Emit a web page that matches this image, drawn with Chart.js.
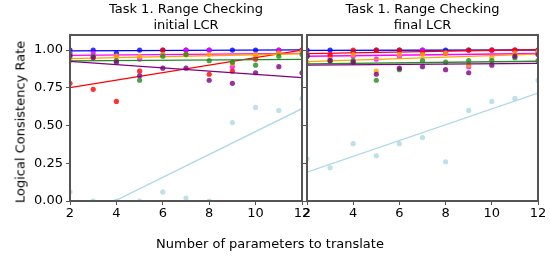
<!DOCTYPE html>
<html>
<head>
<meta charset="utf-8">
<script src="https://cdn.jsdelivr.net/npm/chart.js@4.4.0/dist/chart.umd.min.js"></script>
<style>
  body { margin: 0; background: #fff; font-family: 'DejaVu Sans', sans-serif; }
  #wrap { position: relative; width: 550px; height: 259px; overflow: hidden; }
  .cv { position: absolute; top: 0; }
  #xlabel { position: absolute; left: 0; width: 540px; top: 236px; text-align: center; font-size: 13px; color: #000; }
  #ylabel { position: absolute; left: 20px; top: 122px; font-size: 13px; color: #000; white-space: nowrap;
            transform: translate(-50%, -50%) rotate(-90deg); }
</style>
</head>
<body>
<div id="wrap">
  <div class="cv" style="left:0;width:320px;height:259px"><canvas id="initialChart"></canvas></div>
  <div class="cv" style="left:300px;width:250px;height:259px"><canvas id="finalChart"></canvas></div>
  <div id="xlabel">Number of parameters to translate</div>
  <div id="ylabel">Logical Consistency Rate</div>
</div>
<script>
// x values: number of parameters
const paramCounts = [2, 3, 4, 5, 6, 7, 8, 9, 10, 11, 12];
const xTicks = [2, 4, 6, 8, 10, 12];
const yTicks = [0, 0.25, 0.5, 0.75, 1.0];

// initial LCR (left panel)
const initialLightBlue = [0.06, 0.00, 0.00, 0.00, 0.06, 0.02, 0.00, 0.52, 0.62, 0.60, 0.68];
const initialPurple    = [0.96, 0.95, 0.92, 0.83, 0.88, 0.88, 0.80, 0.78, 0.85, 0.89, 0.85];
const initialGreen     = [0.97, 0.96, 0.93, 0.80, 0.96, 0.97, 0.93, 0.92, 0.90, 0.96, 0.97];
const initialOrange    = [0.93, 0.95, 0.96, 0.96, 0.97, 0.97, 0.97, 0.91, 0.97, 0.98, 0.99];
const initialRed       = [0.78, 0.74, 0.66, 0.86, 1.00, 0.97, 0.84, 0.86, 0.94, 0.98, 1.00];
const initialMagenta   = [0.98, 0.98, 0.96, 0.94, 0.97, 1.00, 1.00, 0.89, 0.97, 1.00, 1.00];
const initialBlue      = [1.00, 1.00, 0.98, 1.00, 1.00, 1.00, 1.00, 1.00, 1.00, 1.00, 1.00];

// final LCR (right panel)
const finalLightBlue = [0.28, 0.22, 0.38, 0.30, 0.38, 0.42, 0.26, 0.60, 0.66, 0.68, 0.80];
const finalPurple    = [0.96, 0.93, 0.92, 0.84, 0.88, 0.89, 0.87, 0.85, 0.90, 0.96, 0.97];
const finalGreen     = [0.97, 0.93, 0.93, 0.80, 0.87, 0.93, 0.92, 0.93, 0.93, 0.95, 0.93];
const finalOrange    = [0.92, 0.94, 0.97, 0.86, 0.97, 0.97, 0.98, 0.90, 0.95, 0.98, 0.99];
const finalRed       = [0.96, 0.97, 1.00, 1.00, 1.00, 0.98, 0.98, 1.00, 1.00, 1.00, 1.00];
const finalMagenta   = [0.98, 0.96, 0.96, 0.94, 0.96, 1.00, 0.98, 0.89, 1.00, 1.00, 0.98];
const finalBlue      = [1.00, 1.00, 0.99, 1.00, 1.00, 1.00, 1.00, 1.00, 1.00, 1.00, 1.00];

const colors = ['#add8e6', '#800080', '#228b22', '#ffa500', '#ff0000', '#ff00ff', '#0000ff'];

function hexA(hex, a) {
    const n = parseInt(hex.slice(1), 16);
    return 'rgba(' + (n >> 16) + ',' + ((n >> 8) & 255) + ',' + (n & 255) + ',' + a + ')';
}

// least squares fit line over the x range
function fitLine(xs, ys) {
    const n = xs.length;
    const mx = xs.reduce((a, b) => a + b, 0) / n;
    const my = ys.reduce((a, b) => a + b, 0) / n;
    let sxy = 0, sxx = 0;
    xs.forEach((x, i) => { sxy += (x - mx) * (ys[i] - my); sxx += (x - mx) * (x - mx); });
    const b = sxy / sxx;
    const x0 = xs[0], x1 = xs[n - 1];
    return [{ x: x0, y: my + b * (x0 - mx) }, { x: x1, y: my + b * (x1 - mx) }];
}

function buildDatasets(seriesList) {
    const sets = [];
    seriesList.forEach((ys, i) => {
        sets.push({
            type: 'line',
            data: fitLine(paramCounts, ys),
            borderColor: colors[i],
            borderWidth: 1.3,
            pointRadius: 0,
            clip: 0
        });
        sets.push({
            type: 'scatter',
            data: paramCounts.map((x, k) => ({ x: x, y: ys[k] })),
            backgroundColor: hexA(colors[i], 0.8),
            borderWidth: 0,
            pointRadius: 2.6,
            clip: 0
        });
    });
    return sets;
}

const framePlugin = {
    id: 'frame',
    afterDraw(chart, args, opts) {
        const a = chart.chartArea, ctx = chart.ctx;
        ctx.save();
        ctx.strokeStyle = '#555';
        ctx.lineWidth = 2;
        ctx.strokeRect(a.left, a.top, a.right - a.left, a.bottom - a.top);
        ctx.fillStyle = '#000';
        ctx.font = "13px 'DejaVu Sans'";
        ctx.textAlign = 'center';
        ctx.textBaseline = 'middle';
        const cx = (a.left + a.right) / 2;
        ctx.fillText(opts.lines[0], cx, 10);
        ctx.fillText(opts.lines[1], cx, 26);
        ctx.restore();
    }
};

function makeChart(id, seriesList, titleLines, showYLabels, yWidth, padRight) {
    const ctx = document.getElementById(id).getContext('2d');
    return new Chart(ctx, {
        type: 'scatter',
        data: { datasets: buildDatasets(seriesList) },
        plugins: [framePlugin],
        options: {
            responsive: true,
            maintainAspectRatio: false,
            animation: false,
            layout: { padding: { top: 35, left: 0, right: padRight, bottom: 0 } },
            plugins: {
                legend: { display: false },
                tooltip: { enabled: false },
                frame: { lines: titleLines }
            },
            scales: {
                x: {
                    type: 'linear',
                    min: 2, max: 12,
                    afterBuildTicks: s => { s.ticks = xTicks.map(v => ({ value: v })); },
                    afterFit: s => { s.height = 58; },
                    ticks: {
                        color: '#000', padding: 1, maxRotation: 0, autoSkip: false,
                        font: { family: "'DejaVu Sans'", size: 13 }
                    },
                    grid: { drawOnChartArea: false, drawTicks: true, tickLength: 4, color: '#555' },
                    border: { display: false }
                },
                y: {
                    type: 'linear',
                    min: 0, max: 1.1,
                    afterBuildTicks: s => { s.ticks = yTicks.map(v => ({ value: v })); },
                    afterFit: s => { s.width = yWidth; },
                    ticks: {
                        display: showYLabels,
                        color: '#000', padding: 3,
                        font: { family: "'DejaVu Sans'", size: 13 },
                        callback: v => Number(v).toFixed(2)
                    },
                    grid: { drawOnChartArea: false, drawTicks: true, tickLength: 4, color: '#555' },
                    border: { display: false }
                }
            }
        }
    });
}

makeChart('initialChart',
    [initialLightBlue, initialPurple, initialGreen, initialOrange, initialRed, initialMagenta, initialBlue],
    ['Task 1. Range Checking', 'initial LCR'], true, 70, 18);

makeChart('finalChart',
    [finalLightBlue, finalPurple, finalGreen, finalOrange, finalRed, finalMagenta, finalBlue],
    ['Task 1. Range Checking', 'final LCR'], false, 7, 12);
</script>
</body>
</html>
